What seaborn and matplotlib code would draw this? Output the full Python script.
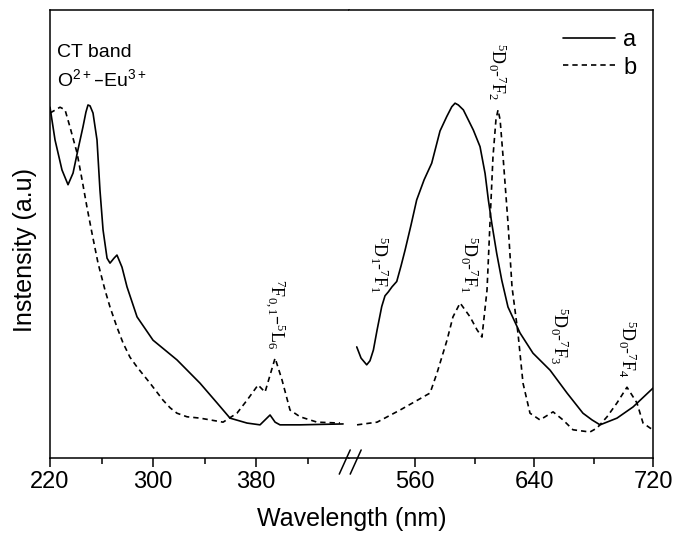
import matplotlib
matplotlib.use("Agg")
import matplotlib.pyplot as plt
import seaborn as sns

# ---------------- data (wavelength nm, intensity a.u. 0-100) ----------------
wl_a_left = [220, 223.9, 229.3, 234.0, 237.9, 241.7, 245.6, 247.9, 249.5, 251.1, 253.4,
             256.5, 258.8, 261.2, 264.3, 266.6, 269.7, 272.0, 275.9, 279.8, 287.6,
             300.0, 318.6, 336.5, 349.7, 359.8, 373.0, 383.1, 387.0, 390.9, 394.8,
             398.6, 414.2, 429.7, 447.6]
int_a_left = [78.3, 71.0, 64.3, 61.0, 63.6, 68.8, 73.9, 77.2, 78.8, 78.6, 77.0,
              71.0, 59.8, 50.9, 44.6, 43.5, 44.6, 45.3, 42.6, 38.2, 31.5,
              26.3, 21.9, 16.7, 12.3, 8.9, 7.8, 7.4, 8.5, 9.6, 8.0,
              7.4, 7.4, 7.5, 7.6]

wl_a_right = [520.8, 523.7, 527.5, 529.7, 532.0, 534.5, 537.6, 539.8, 542.1, 544.5,
              547.7, 550.6, 553.3, 557.3, 561.1, 566.1, 571.2, 576.8, 581.3, 584.7,
              586.9, 589.1, 592.5, 599.2, 603.7, 607.1, 609.3, 611.6, 614.9, 618.3,
              622.5, 630.6, 639.3, 650.8, 662.2, 672.9, 679.0, 684.4, 695.8, 706.6,
              720.0]
int_a_right = [24.8, 22.3, 20.8, 21.7, 24.1, 28.6, 33.8, 36.2, 37.1, 38.2,
               39.4, 42.9, 46.4, 52.0, 57.6, 62.1, 65.8, 73.0, 76.2, 78.4,
               79.2, 78.8, 77.7, 73.2, 69.5, 63.5, 57.6, 52.4, 45.7, 39.7,
               33.7, 27.9, 23.4, 19.6, 14.5, 10.0, 8.5, 7.4, 8.9, 11.4,
               15.6]

wl_b_left = [220, 227.8, 231.7, 235.5, 241.0, 244.9, 248.7, 252.6, 257.3, 262.7,
             266.6, 272.0, 276.7, 282.1, 287.6, 297.7, 307.8, 313.3, 318.6, 326.4,
             336.5, 354.4, 365.2, 373.0, 381.6, 387.0, 394.8, 400.2, 406.4, 414.2,
             427.4, 445.2]
int_b_left = [77.0, 78.3, 77.7, 73.9, 68.1, 62.1, 56.0, 50.2, 43.5, 37.5,
              33.7, 29.2, 25.7, 22.5, 20.3, 16.7, 12.9, 11.2, 10.0, 9.2,
              8.9, 8.0, 10.0, 12.9, 16.3, 14.7, 22.3, 17.4, 10.7, 9.2,
              8.0, 7.8]

wl_b_right = [521.0, 534.5, 549.9, 570.1, 574.8, 581.5, 585.5, 590.3, 597.0, 601.7,
              605.0, 608.4, 610.4, 612.4, 614.4, 615.8, 617.2, 619.2, 622.5, 625.2,
              629.2, 632.6, 637.3, 644.0, 652.8, 659.5, 666.2, 677.6, 682.4, 689.1,
              695.8, 702.5, 709.2, 713.3, 718.0, 720.0]
int_b_right = [7.4, 8.0, 10.7, 14.5, 19.0, 26.3, 31.5, 34.6, 31.5, 28.6,
               27.0, 37.5, 52.5, 67.2, 75.5, 77.7, 75.5, 67.2, 52.5, 38.2,
               27.9, 16.7, 10.0, 8.5, 10.3, 8.5, 6.3, 5.8, 6.7, 9.2,
               12.3, 15.8, 12.3, 7.8, 6.7, 6.3]

series_labels = ["a", "b"]
left_major = [220, 300, 380]
left_minor = [260, 340, 420]
right_major = [560, 640, 720]
right_minor = [600, 680]

# transition labels: (text, wavelength, intensity, panel)
transitions = [
    (r"$^7$F$_{0,1}$–$^5$L$_6$", 394.8, 32.0, "left"),
    (r"$^5$D$_1$-$^7$F$_1$", 535.8, 43.2, "right"),
    (r"$^5$D$_0$-$^7$F$_1$", 596.0, 43.2, "right"),
    (r"$^5$D$_0$-$^7$F$_2$", 615.1, 86.2, "right"),
    (r"$^5$D$_0$-$^7$F$_3$", 656.8, 27.2, "right"),
    (r"$^5$D$_0$-$^7$F$_4$", 702.5, 24.3, "right"),
]

# ---------------- style ----------------
sns.set_style("ticks")
plt.rcParams["font.family"] = ["Liberation Sans", "DejaVu Sans"]
plt.rcParams["mathtext.default"] = "regular"
plt.rcParams["axes.edgecolor"] = "black"
plt.rcParams["axes.linewidth"] = 1.1
plt.rcParams["xtick.color"] = "black"
plt.rcParams["ytick.color"] = "black"
plt.rcParams["text.color"] = "black"
plt.rcParams["axes.labelcolor"] = "black"

W, H = 675, 534
fig = plt.figure(figsize=(W / 100, H / 100), dpi=100)
fig.patch.set_facecolor("white")

x0, xb, x1 = 50, 349, 653
ytop, ybot = 10, 458
ax_l = fig.add_axes([x0 / W, 1 - ybot / H, (xb - x0) / W, (ybot - ytop) / H])
ax_r = fig.add_axes([xb / W, 1 - ybot / H, (x1 - xb) / W, (ybot - ytop) / H])

dash = (0, (3.2, 2.4))
lw = 1.2
sns.lineplot(x=wl_a_left, y=int_a_left, ax=ax_l, color="black", lw=lw, sort=False, estimator=None)
sns.lineplot(x=wl_b_left, y=int_b_left, ax=ax_l, color="black", lw=lw, ls=dash, sort=False, estimator=None)
sns.lineplot(x=wl_a_right, y=int_a_right, ax=ax_r, color="black", lw=lw, sort=False,
             estimator=None, label=series_labels[0])
sns.lineplot(x=wl_b_right, y=int_b_right, ax=ax_r, color="black", lw=lw, ls=dash, sort=False,
             estimator=None, label=series_labels[1])

ax_l.set_xlim(220, 452.2)
ax_r.set_xlim(515.6, 720)
for ax in (ax_l, ax_r):
    ax.set_ylim(0, 100)
    ax.set_yticks([])
    ax.set_ylabel("")
    ax.set_xlabel("")
    ax.tick_params(axis="x", which="major", length=6.5, width=1.1, labelsize=17, pad=3,
                   direction="out", labelcolor="black")
    ax.tick_params(axis="x", which="minor", length=4.3, width=1.1, direction="out")
    ax.set_facecolor("white")

ax_l.set_xticks(left_major)
ax_l.set_xticks(left_minor, minor=True)
ax_r.set_xticks(right_major)
ax_r.set_xticks(right_minor, minor=True)
ax_l.spines["right"].set_visible(False)
ax_r.spines["left"].set_visible(False)

# break marks "//"
for dx in (-0.005, 0.031):
    ax_r.plot([-0.027 + dx, 0.009 + dx], [-0.036, 0.018],
              transform=ax_r.transAxes, color="black", lw=1.1, clip_on=False)

fig.text(25 / W, 1 - 250 / H, "Instensity (a.u)", rotation=90, ha="center", va="center", fontsize=18)
fig.text((x0 + x1) / 2 / W, 1 - 519 / H, "Wavelength (nm)", ha="center", va="center", fontsize=18)

ax_l.text(225.4, 90.5, "CT band", fontsize=14, ha="left", va="center")
ax_l.text(225.4, 84.6, r"O$^{2+}$–Eu$^{3+}$", fontsize=14, ha="left", va="center")

for txt, xw, yi, panel in transitions:
    ax = ax_l if panel == "left" else ax_r
    ax.text(xw, yi, txt, rotation=270, ha="center", va="center", fontsize=13,
            family=["Liberation Serif", "DejaVu Serif"])

leg = ax_r.legend(loc="upper right", bbox_to_anchor=(0.945, 0.958), frameon=False,
                  fontsize=17, handlelength=2.2, handletextpad=0.35, labelspacing=0.25,
                  borderaxespad=0, borderpad=0)
for h in leg.get_lines():
    h.set_linewidth(1.2)

fig.savefig("out.png", dpi=100, facecolor="white")
